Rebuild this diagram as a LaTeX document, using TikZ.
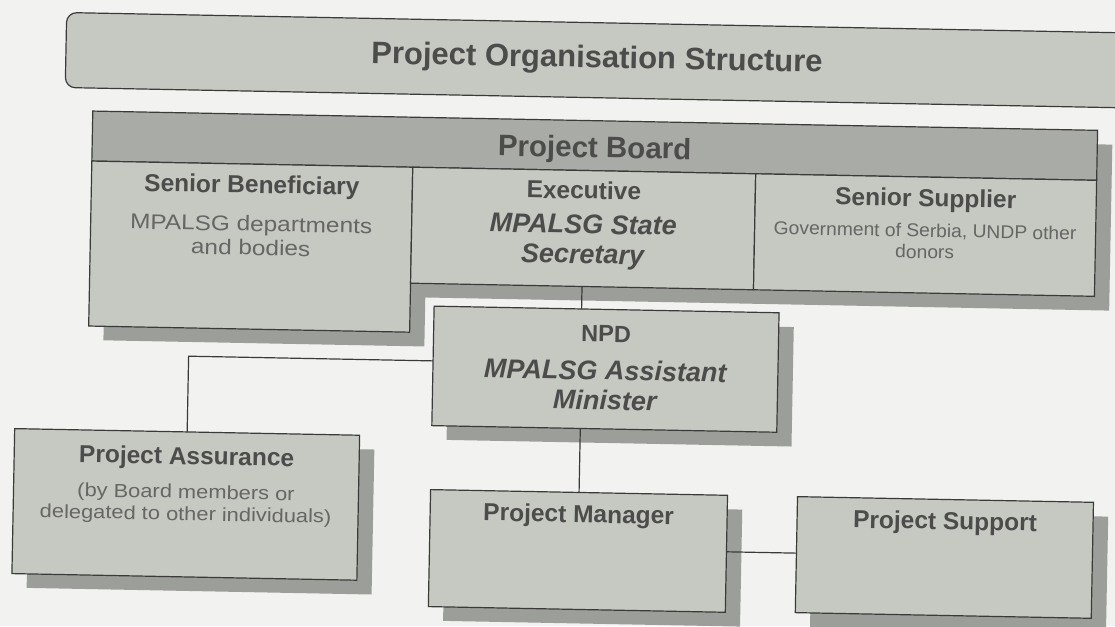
\documentclass[tikz,border=0pt]{standalone}
\usepackage{fontspec}
\setmainfont{Liberation Sans}
\usetikzlibrary{shadows}
\definecolor{paper}{HTML}{F2F3F0}
\definecolor{boxfill}{HTML}{C6C8C2}
\definecolor{bandfill}{HTML}{A9ABA6}
\definecolor{shadowfill}{HTML}{9C9E9A}
\definecolor{edge}{HTML}{3A3B38}
\definecolor{ink}{HTML}{4C4D4A}
\definecolor{inklight}{HTML}{666764}
% wide setting for the lighter description lines
\newcommand{\widetext}[2]{\scalebox{#1}[1]{#2}}
\begin{document}
\begin{tikzpicture}[x=1pt,y=-1pt,
  every node/.style={inner sep=0pt,outer sep=0pt},
  cell/.style={draw=edge,line width=1.2pt,fill=boxfill,anchor=north west},
  card/.style={cell,drop shadow={shadow xshift=15pt,shadow yshift=-14pt,fill=shadowfill,opacity=1}},
  link/.style={draw=edge,line width=1.2pt},
  ttl/.style={anchor=base,text=ink,font=\bfseries\fontsize{31}{34}\selectfont},
  brd/.style={anchor=base,text=ink,font=\bfseries\fontsize{29.5}{32}\selectfont},
  hb/.style={anchor=base,text=ink,font=\bfseries\fontsize{24.5}{28}\selectfont},
  bi/.style={anchor=base,text=ink,font=\bfseries\itshape\fontsize{27}{30}\selectfont},
  rg/.style={anchor=base,text=inklight,font=\fontsize{21.2}{23}\selectfont},
  sm/.style={anchor=base,text=inklight,font=\fontsize{18.5}{20}\selectfont},
  pd/.style={anchor=base,text=inklight,font=\fontsize{19}{21}\selectfont}]
\useasboundingbox (0,0) rectangle (1115,626);
\clip (0,0) rectangle (1115,626);
\fill[paper] (0,0) rectangle (1115,626);
\begin{scope}[transform canvas={rotate around={-1.1:(557,313)}}]
  % title banner
  \node[cell,rounded corners=10pt,minimum width=1110pt,minimum height=75pt] (titlebar) at (61,22) {};
  \node[ttl] (titletext) at (592,67) {Project Organisation Structure};

  % project board: shadow of the stepped outline, then its cells
  \fill[shadowfill] (104,134) -- (1109,134) -- (1109,300) -- (425,300)
        -- (425,349) -- (104,349) -- cycle;
  \node[cell,fill=bandfill,minimum width=1005pt,minimum height=50pt] (band) at (89,120) {};
  \node[cell,minimum width=321pt,minimum height=165pt] (sb) at (89,170) {};
  \node[cell,minimum width=343pt,minimum height=116pt] (ex) at (410,170) {};
  \node[cell,minimum width=341pt,minimum height=116pt] (ss) at (753,170) {};
  \node[brd] (bandtext) at (591.5,157) {Project Board};

  % lower boxes
  \node[card,minimum width=345pt,minimum height=119.5pt] (npd) at (434,308.5) {};
  \node[card,minimum width=345pt,minimum height=145pt] (pa) at (17,439) {};
  \node[card,minimum width=297pt,minimum height=117pt] (pm) at (434,492) {};
  \node[card,minimum width=296pt,minimum height=116pt] (ps) at (801,492) {};

  % reporting lines
  \draw[link] (ex.south) -- (ex.south |- npd.north);
  \draw[link] ([yshift=5pt]npd.west) -| (pa.north);
  \draw[link] (pm.north) -- (pm.north |- npd.south);
  \draw[link] ([yshift=2pt]pm.east) -- ([yshift=2pt]pm.east -| ps.west);

  % labels
  \node[hb] (sbA) at (249.5,199) {Senior Beneficiary};
  \node[rg] (sbB) at (249.5,237) {\widetext{1.15}{MPALSG departments}};
  \node[rg] (sbC) at (249.5,261) {\widetext{1.15}{and bodies}};
  \node[hb] (exA) at (581.5,198.5) {Executive};
  \node[bi] (exB) at (581.5,233) {MPALSG State};
  \node[bi] (exC) at (581.5,263) {Secretary};
  \node[hb] (ssA) at (923.5,199.5) {Senior Supplier};
  \node[sm] (ssB) at (923.5,230) {\widetext{1.04}{Government of Serbia, UNDP other}};
  \node[sm] (ssC) at (923.5,251.5) {\widetext{1.04}{donors}};
  \node[hb,font=\bfseries\fontsize{23.5}{26}\selectfont] (npdA) at (606.5,341) {NPD};
  \node[bi] (npdB) at (606.5,379) {MPALSG Assistant};
  \node[bi] (npdC) at (606.5,409) {Minister};
  \node[hb] (paA) at (189.5,471.5) {Project Assurance};
  \node[pd] (paB) at (189.5,505.5) {\widetext{1.15}{(by Board members or}};
  \node[pd] (paC) at (189.5,527.5) {\widetext{1.15}{delegated to other individuals)}};
  \node[hb] (pmA) at (582.5,522) {Project Manager};
  \node[hb] (psA) at (949,522) {Project Support};
\end{scope}
\end{tikzpicture}
\end{document}
